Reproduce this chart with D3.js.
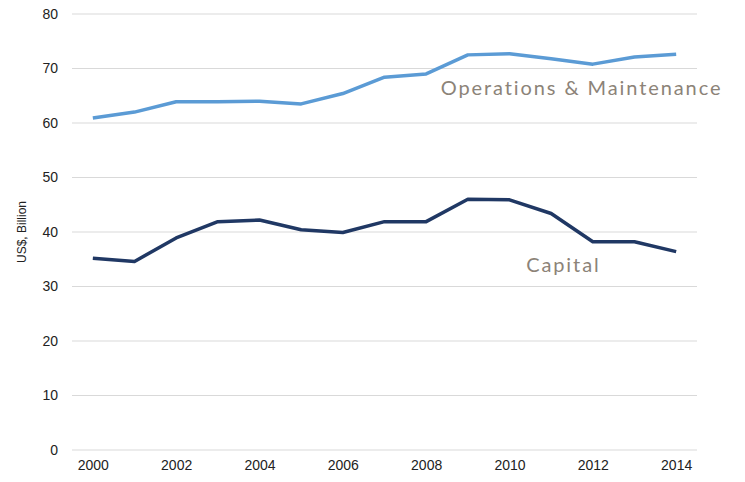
<!DOCTYPE html>
<html>
<head>
<meta charset="utf-8">
<script src="https://cdn.jsdelivr.net/npm/d3@7"></script>
<style>
  body { margin: 0; background: #fff; }
  .axis text { font-family: "Liberation Sans", Arial, sans-serif; font-size: 14px; fill: #222; }
  .series-label { font-family: Lato, "Open Sans", sans-serif; font-size: 20px; letter-spacing: 1.9px; fill: #8c8378; }
</style>
</head>
<body>
<div id="chart"></div>
<script>
// data (US$ billion)
const years = [2000, 2001, 2002, 2003, 2004, 2005, 2006, 2007, 2008, 2009, 2010, 2011, 2012, 2013, 2014];
const omValues = [60.9, 62.0, 63.9, 63.9, 64.0, 63.5, 65.4, 68.4, 69.0, 72.5, 72.7, 71.8, 70.8, 72.1, 72.6];
const capitalValues = [35.2, 34.6, 38.9, 41.9, 42.2, 40.4, 39.9, 41.9, 41.9, 46.0, 45.9, 43.4, 38.2, 38.2, 36.4];
const yTicks = [0, 10, 20, 30, 40, 50, 60, 70, 80];
const xTicks = [2000, 2002, 2004, 2006, 2008, 2010, 2012, 2014];

const width = 745, height = 482;
const margin = {top: 14, right: 48, bottom: 32, left: 72};

const svg = d3.select("#chart")
  .append("svg")
  .attr("width", width)
  .attr("height", height);

// scales - half a year of padding at each end
const x = d3.scaleLinear()
  .domain([1999.5, 2014.5])
  .range([margin.left, width - margin.right]);

const y = d3.scaleLinear()
  .domain([0, 80])
  .range([height - margin.bottom, margin.top]);

// gridlines
svg.append("g")
  .selectAll("line")
  .data(yTicks)
  .enter().append("line")
  .attr("x1", x.range()[0])
  .attr("x2", x.range()[1])
  .attr("y1", d => y(d))
  .attr("y2", d => y(d))
  .attr("stroke", "#d9d9d9")
  .attr("stroke-width", 1);

// y axis
const yAxis = svg.append("g")
  .attr("class", "axis")
  .attr("transform", "translate(" + (margin.left - 14) + ",0)")
  .call(d3.axisLeft(y).tickValues(yTicks).tickSize(0).tickPadding(0));
yAxis.select(".domain").remove();

// x axis
const xAxis = svg.append("g")
  .attr("class", "axis")
  .attr("transform", "translate(0," + (height - margin.bottom + 8) + ")")
  .call(d3.axisBottom(x).tickValues(xTicks).tickFormat(d3.format("d")).tickSize(0).tickPadding(2));
xAxis.select(".domain").remove();

// y axis title
svg.append("text")
  .attr("transform", "translate(26," + y(40) + ") rotate(-90)")
  .attr("text-anchor", "middle")
  .style("font-family", "'Liberation Sans', Arial, sans-serif")
  .style("font-size", "12px")
  .style("fill", "#222")
  .text("US$, Billion");

// lines
const line = d3.line()
  .x((d, i) => x(years[i]))
  .y(d => y(d));

svg.append("path")
  .datum(omValues)
  .attr("fill", "none")
  .attr("stroke", "#5b9bd5")
  .attr("stroke-width", 3.5)
  .attr("stroke-linejoin", "round")
  .attr("d", line);

svg.append("path")
  .datum(capitalValues)
  .attr("fill", "none")
  .attr("stroke", "#203864")
  .attr("stroke-width", 3.5)
  .attr("stroke-linejoin", "round")
  .attr("d", line);

// series labels
svg.append("text")
  .attr("class", "series-label")
  .attr("x", x(2008.35))
  .attr("y", y(65.1))
  .text("Operations & Maintenance");

svg.append("text")
  .attr("class", "series-label")
  .attr("x", x(2010.4))
  .attr("y", y(32.7))
  .text("Capital");
</script>
</body>
</html>
